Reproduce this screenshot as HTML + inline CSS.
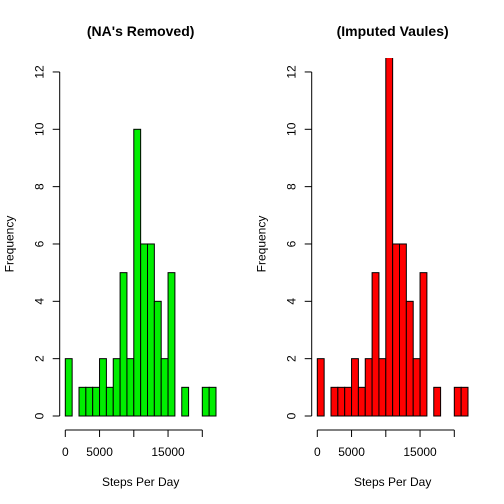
<!DOCTYPE html>
<html><head><meta charset="utf-8"><style>body{margin:0;background:#fff}svg{display:block}text{font-family:"Liberation Sans",Arial,sans-serif;font-size:12px;fill:#000}</style></head>
<body>
<svg id="c" width="504" height="504" xmlns="http://www.w3.org/2000/svg"></svg>
<script>
const binStarts=[0,1000,2000,3000,4000,5000,6000,7000,8000,9000,10000,11000,12000,13000,14000,15000,16000,17000,18000,19000,20000,21000];
const countsRemoved=[2,0,1,1,1,2,1,2,5,2,10,6,6,4,2,5,0,1,0,0,1,1];
const countsImputed=[2,0,1,1,1,2,1,2,5,2,18,6,6,4,2,5,0,1,0,0,1,1];
const yTicks=[0,2,4,6,8,10,12];
const xTicks=[0,5000,10000,15000,20000];
const xTickLabels=["0","5000","","15000",""];
const binWidth=1000;
const svg=document.getElementById('c');
const NS='http://www.w3.org/2000/svg';
function mk(t,a,p){const e=document.createElementNS(NS,t);for(const k in a)e.setAttribute(k,a[k]);(p||svg).appendChild(e);return e;}
const y=v=>416-v*28.67;
function panel(x0,axisX,counts,color,title,id){
  const x=v=>x0+v*0.00685;
  const g=mk('g',{});
  
  
  const cp=mk('clipPath',{id:'cp'+id},g);
  mk('rect',{x:x0-20,y:58,width:200,height:380},cp);
  const bars=mk('g',{'clip-path':'url(#cp'+id+')'},g);
  counts.forEach((c,i)=>{if(c<=0)return;
    const r=mk('rect',{x:x(binStarts[i]),y:y(c),width:x(binStarts[i]+binWidth)-x(binStarts[i]),height:y(0)-y(c),fill:color,stroke:'#000','stroke-width':1},bars);
    
    });
  const ya=mk('g',{},g);
  
  
  mk('line',{x1:axisX,x2:axisX,y1:y(0),y2:y(12),stroke:'#000'},ya);
  yTicks.forEach(t=>{mk('line',{x1:axisX-7,x2:axisX,y1:y(t),y2:y(t),stroke:'#000'},ya);
    const tx=mk('text',{x:0,y:0,'text-anchor':'middle',transform:`translate(${axisX-16},${y(t)}) rotate(-90)`},ya);tx.textContent=t;});
  const xa=mk('g',{},g);
  
  
  mk('line',{x1:x(0),x2:x(20000),y1:430,y2:430,stroke:'#000'},xa);
  xTicks.forEach((t,i)=>{mk('line',{x1:x(t),x2:x(t),y1:430,y2:437,stroke:'#000'},xa);
    const tx=mk('text',{x:x(t),y:456,'text-anchor':'middle'},xa);tx.textContent=xTickLabels[i];});
  const xl=mk('text',{x:(x(0)+x(22000))/2,y:486,'text-anchor':'middle'},g);xl.textContent='Steps Per Day';
  
  const yl=mk('text',{x:0,y:0,'text-anchor':'middle',transform:`translate(${axisX-46},244) rotate(-90)`},g);yl.textContent='Frequency';
  
  const tt=mk('text',{x:(x(0)+x(22000))/2,y:36,'text-anchor':'middle','font-weight':'bold','style':'font-size:14px'},g);tt.textContent=title;
  
}
panel(65.3,59.7,countsRemoved,'#00ee00',"(NA's Removed)",'removed');
panel(317.3,311.7,countsImputed,'#ff0000',"(Imputed Vaules)",'imputed');
</script>
</body></html>
